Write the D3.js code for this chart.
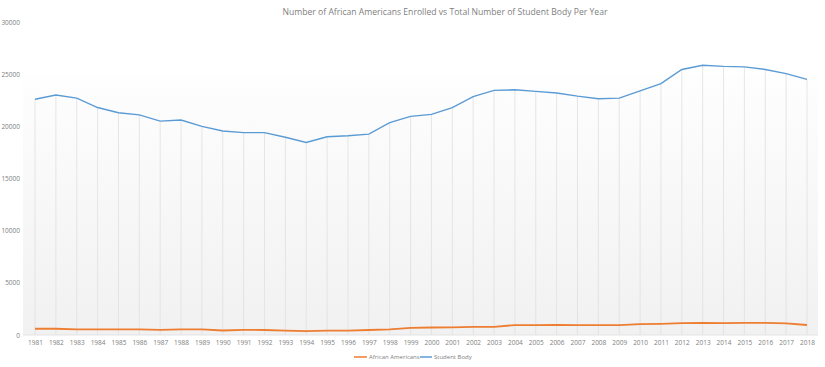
<!DOCTYPE html>
<html><head><meta charset="utf-8">
<script src="https://cdn.jsdelivr.net/npm/d3@7"></script>
<style>body{margin:0;background:#fff}svg{display:block}text{font-family:"Open Sans",sans-serif}</style>
</head><body><svg id="c" width="825" height="367"></svg>
<script>
const years = [1981,1982,1983,1984,1985,1986,1987,1988,1989,1990,1991,1992,1993,1994,1995,1996,1997,1998,1999,2000,2001,2002,2003,2004,2005,2006,2007,2008,2009,2010,2011,2012,2013,2014,2015,2016,2017,2018];
const africanAmericans = [600,600,540,540,540,540,500,540,530,430,490,480,420,380,410,420,480,540,680,720,730,780,780,950,940,970,940,940,940,1040,1070,1130,1170,1130,1170,1170,1110,960];
const studentBody = [22600,23000,22700,21800,21300,21100,20500,20600,20000,19550,19400,19400,18950,18450,19000,19100,19250,20350,20950,21150,21800,22850,23450,23500,23350,23200,22900,22650,22700,23400,24100,25450,25850,25750,25700,25450,25050,24500];
const yTicks = [0,5000,10000,15000,20000,25000,30000];
const seriesNames = ["African Americans","Student Body"];
const colors = ["#ed7d31","#5b9bd5"];
const title = "Number of African Americans Enrolled vs Total Number of Student Body Per Year";

const svg = d3.select("#c");
const x = d3.scalePoint().domain(years).range([35,807]);
const y = d3.scaleLinear().domain([0,30000]).range([335,22]);

const defs = svg.append("defs");
const g = defs.append("linearGradient").attr("id","bg").attr("x1",0).attr("y1",0).attr("x2",0).attr("y2",1);
g.append("stop").attr("offset","0%").attr("stop-color","#fefefe");
g.append("stop").attr("offset","100%").attr("stop-color","#f1f1f1");
svg.append("rect").attr("x",23).attr("y",y(25000)).attr("width",795).attr("height",y(0)-y(25000)).attr("fill","url(#bg)");

// drop lines
svg.append("g").selectAll("line").data(years).join("line")
  .attr("x1",d=>x(d)).attr("x2",d=>x(d))
  .attr("y1",(d,i)=>y(studentBody[i])).attr("y2",y(0))
  .attr("stroke","#e0e0e0").attr("stroke-width",0.8);

svg.append("line").attr("x1",23).attr("x2",818).attr("y1",y(0)).attr("y2",y(0)).attr("stroke","#e3e3e3");

const line = d3.line().x((d,i)=>x(years[i])).y(d=>y(d));
svg.append("path").datum(studentBody).attr("d",line).attr("fill","none").attr("stroke",colors[1]).attr("stroke-width",1.4);
svg.append("path").datum(africanAmericans).attr("d",line).attr("fill","none").attr("stroke",colors[0]).attr("stroke-width",1.8);

// y axis
const ya = svg.append("g").attr("transform","translate(20,0)").call(d3.axisLeft(y).tickValues(yTicks).tickSize(0).tickPadding(0).tickFormat(d3.format("d")));
ya.select(".domain").remove();
ya.selectAll("text").attr("fill","#808080").attr("font-size","6.5px").attr("dy","0.32em");

// x axis
const xa = svg.append("g").attr("transform","translate(0,340)").call(d3.axisBottom(x).tickSize(0).tickPadding(0).tickFormat(d3.format("d")));
xa.select(".domain").remove();
xa.selectAll("text").attr("fill","#808080").attr("font-size","6.5px").attr("dy","0.71em");

svg.append("text").attr("x",445).attr("y",15).attr("text-anchor","middle").attr("fill","#808080").attr("font-size","9.5px")
  .attr("textLength",325).attr("lengthAdjust","spacingAndGlyphs").text(title);

// legend
const leg = [{x:354,w:13,tx:369},{x:420,w:12,tx:434}];
leg.forEach((l,i)=>{
  svg.append("line").attr("x1",l.x).attr("x2",l.x+l.w).attr("y1",357).attr("y2",357).attr("stroke",colors[i]).attr("stroke-width",1.5);
  svg.append("text").attr("x",l.tx).attr("y",357).attr("dy","0.32em").attr("fill","#808080").attr("font-size","6px").text(seriesNames[i]);
});
</script></body></html>
